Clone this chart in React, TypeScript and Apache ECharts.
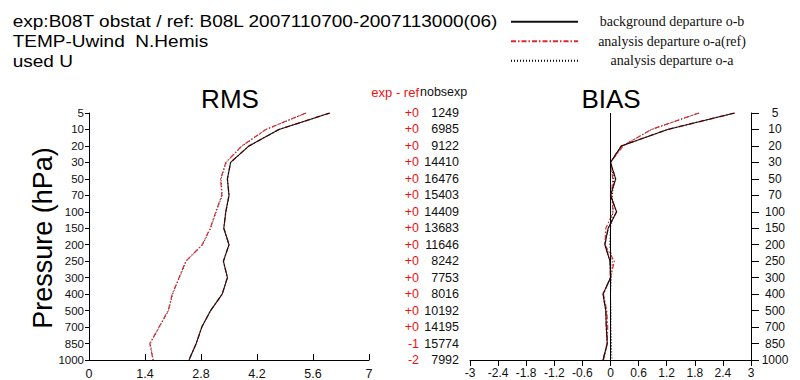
import React, { useEffect, useRef } from 'react';
import * as echarts from 'echarts';

const levels = ['5', '10', '20', '30', '50', '70', '100', '150', '200', '250', '300', '400', '500', '700', '850', '1000'];

// RMS profiles
const rmsOB = [6.02, 4.75, 4.0, 3.54, 3.46, 3.5, 3.42, 3.37, 3.5, 3.36, 3.46, 3.33, 3.04, 2.82, 2.68, 2.5];
const rmsOBref = [6.02, 4.75, 4.0, 3.54, 3.46, 3.5, 3.42, 3.37, 3.5, 3.36, 3.46, 3.33, 3.04, 2.82, 2.68, 2.5];
const rmsOAref = [5.42, 4.42, 3.82, 3.42, 3.29, 3.32, 3.17, 3.03, 2.83, 2.42, 2.25, 2.08, 1.98, 1.75, 1.52, 1.6];
const rmsOA = [5.43, 4.43, 3.83, 3.43, 3.3, 3.33, 3.18, 3.04, 2.84, 2.43, 2.26, 2.09, 1.99, 1.76, 1.53, 1.61];

// BIAS profiles
const biasOB = [2.65, 1.22, 0.23, 0.0, 0.11, 0.0, 0.13, -0.05, -0.12, -0.01, 0.0, -0.16, -0.1, -0.09, -0.07, -0.16];
const biasOBref = [2.65, 1.22, 0.23, 0.0, 0.11, 0.0, 0.13, -0.05, -0.12, -0.01, 0.0, -0.16, -0.1, -0.09, -0.07, -0.16];
const biasOAref = [1.89, 0.87, 0.27, 0.0, 0.05, 0.02, 0.06, -0.1, -0.12, 0.08, 0.0, -0.15, -0.08, -0.06, -0.07, -0.15];
const biasOA = [1.89, 0.88, 0.25, 0.0, 0.07, 0.04, 0.05, 0.0, -0.02, 0.04, 0.02, 0.0, 0.01, 0.01, 0.02, 0.03];

// middle column
const expMinusRef = ['+0', '+0', '+0', '+0', '+0', '+0', '+0', '+0', '+0', '+0', '+0', '+0', '+0', '+0', '-1', '-2'];
const nobsExp = [1249, 6985, 9122, 14410, 16476, 15403, 14409, 13683, 11646, 8242, 7753, 8016, 10192, 14195, 15774, 7992];

const NAME_OB = 'background departure o-b';
const NAME_OAREF = 'analysis departure o-a(ref)';
const NAME_OA = 'analysis departure o-a';
const NAME_OBREF = 'background departure o-b(ref)';

const RED = '#e3262b';
const SANS = '"Liberation Sans", Arial, sans-serif';
const SERIF = '"Liberation Serif", "Times New Roman", serif';
const DASHDOT = [5, 2, 1.5, 2];

function seriesFor(grid: number, ob: number[], obRef: number[], oaRef: number[], oa: number[], withZero: boolean) {
  const base = { type: 'line', xAxisIndex: grid, yAxisIndex: grid, symbol: 'none', silent: true };
  const list: any[] = [
    { ...base, name: NAME_OA, data: oa, lineStyle: { color: '#000', width: 1, type: [1, 2] }, itemStyle: { color: '#000' } },
    { ...base, name: NAME_OAREF, data: oaRef, lineStyle: { color: RED, width: 1.2, type: DASHDOT }, itemStyle: { color: RED } },
    { ...base, name: NAME_OBREF, data: obRef, lineStyle: { color: RED, width: 1.4, type: DASHDOT }, itemStyle: { color: RED } },
    { ...base, name: NAME_OB, data: ob, lineStyle: { color: '#111', width: 1.1, type: 'solid' }, itemStyle: { color: '#111' } },
  ];
  if (withZero) {
    list[3].markLine = {
      silent: true,
      symbol: ['none', 'none'],
      label: { show: false },
      lineStyle: { color: '#000', width: 1, type: 'solid' },
      data: [{ xAxis: 0 }],
    };
  }
  return list;
}

export default function App() {
  const ref = useRef<HTMLDivElement>(null);
  useEffect(() => {
    if (!ref.current) return;
    const chart = echarts.init(ref.current, null, { renderer: 'svg' });
    const axisText = { color: '#111', fontFamily: SANS };
    const option: any = {
      animation: false,
      backgroundColor: '#fff',
      legend: {
        data: [NAME_OB, NAME_OAREF, NAME_OA],
        orient: 'vertical',
        left: 510,
        top: 14.7,
        itemWidth: 67,
        itemHeight: 14,
        itemGap: 5.5,
        padding: 0,
        selectedMode: false,
        itemStyle: { opacity: 0, color: 'rgba(0,0,0,0)', borderWidth: 0 },
        formatter: (name: string) => `{c|${name}}`,
        textStyle: {
          rich: { c: { width: 178, align: 'center', fontFamily: SERIF, fontSize: 14, color: '#111' } },
        },
      },
      grid: [
        { left: 89, right: 431, top: 113, bottom: 20 },
        { left: 470, right: 49, top: 113, bottom: 20 },
      ],
      xAxis: [
        {
          gridIndex: 0, type: 'value', min: 0, max: 7, interval: 1.4,
          axisLine: { show: true, lineStyle: { color: '#000', width: 1 } },
          axisTick: { show: true, inside: true, length: 6, lineStyle: { color: '#000' } },
          splitLine: { show: false },
          axisLabel: { ...axisText, fontSize: 12.5, margin: 7 },
        },
        {
          gridIndex: 1, type: 'value', min: -3, max: 3, interval: 0.6,
          axisLine: { show: true, onZero: false, lineStyle: { color: '#000', width: 1 } },
          axisTick: { show: true, inside: false, length: 6, lineStyle: { color: '#000' } },
          splitLine: { show: false },
          axisLabel: { ...axisText, fontSize: 12, margin: 7 },
        },
      ],
      yAxis: [
        {
          gridIndex: 0, type: 'category', data: levels, inverse: true, boundaryGap: false, position: 'left',
          axisLine: { show: true, onZero: false, lineStyle: { color: '#000', width: 1 } },
          axisTick: { show: true, length: 4, interval: 0, lineStyle: { color: '#000' } },
          splitLine: { show: false },
          axisLabel: { ...axisText, fontSize: 11.5, margin: 5, interval: 0 },
        },
        {
          gridIndex: 1, type: 'category', data: levels, inverse: true, boundaryGap: false, position: 'right',
          axisLine: { show: true, onZero: false, lineStyle: { color: '#000', width: 1 } },
          axisTick: { show: true, length: 8, interval: 0, lineStyle: { color: '#000' } },
          splitLine: { show: false },
          axisLabel: { ...axisText, fontSize: 12, margin: 24, align: 'center', interval: 0 },
        },
        {
          gridIndex: 1, type: 'category', data: levels, inverse: true, boundaryGap: false, position: 'left',
          axisLine: { show: false },
          axisTick: { show: false },
          splitLine: { show: false },
          axisLabel: {
            interval: 0,
            margin: 11,
            formatter: (_v: string, i: number) => `{d|${expMinusRef[i]}}{n|${nobsExp[i]}}`,
            rich: {
              d: { color: '#ee1111', fontSize: 12.5, fontFamily: SANS, width: 25, align: 'right' },
              n: { color: '#111', fontSize: 12.5, fontFamily: SANS, width: 40, align: 'right' },
            },
          },
        },
      ],
      series: [
        ...seriesFor(0, rmsOB, rmsOBref, rmsOAref, rmsOA, false),
        ...seriesFor(1, biasOB, biasOBref, biasOAref, biasOA, true).map((s) => ({ ...s, yAxisIndex: 1 })),
      ],
      graphic: [
        { type: 'text', x: 12.7, y: 21, scaleX: 1.12, style: { text: 'exp:B08T obstat / ref: B08L 2007110700-2007113000(06)', font: `17px ${SANS}`, fill: '#000', verticalAlign: 'middle' } },
        { type: 'text', x: 12.7, y: 41, scaleX: 1.12, style: { text: 'TEMP-Uwind  N.Hemis', font: `17px ${SANS}`, fill: '#000', verticalAlign: 'middle' } },
        { type: 'text', x: 12.7, y: 61, scaleX: 1.12, style: { text: 'used U', font: `17px ${SANS}`, fill: '#000', verticalAlign: 'middle' } },
        { type: 'text', x: 230, y: 98.5, style: { text: 'RMS', font: `26px ${SANS}`, fill: '#000', align: 'center', verticalAlign: 'middle' } },
        { type: 'text', x: 611, y: 98.5, style: { text: 'BIAS', font: `26px ${SANS}`, fill: '#000', align: 'center', verticalAlign: 'middle' } },
        { type: 'text', x: 419, y: 92, style: { text: 'exp - ref', font: `13px ${SANS}`, fill: '#ee1111', align: 'right', verticalAlign: 'middle' } },
        { type: 'text', x: 420, y: 92, style: { text: 'nobsexp', font: `12.5px ${SANS}`, fill: '#111', align: 'left', verticalAlign: 'middle' } },
        { type: 'text', x: 43, y: 238, rotation: Math.PI / 2, style: { text: 'Pressure (hPa)', font: `27px ${SANS}`, fill: '#000', align: 'center', verticalAlign: 'middle' } },
      ],
    };
    chart.setOption(option);
    return () => chart.dispose();
  }, []);
  return <div ref={ref} style={{ position: 'absolute', left: 0, top: 0, width: 800, height: 380 }} />;
}
